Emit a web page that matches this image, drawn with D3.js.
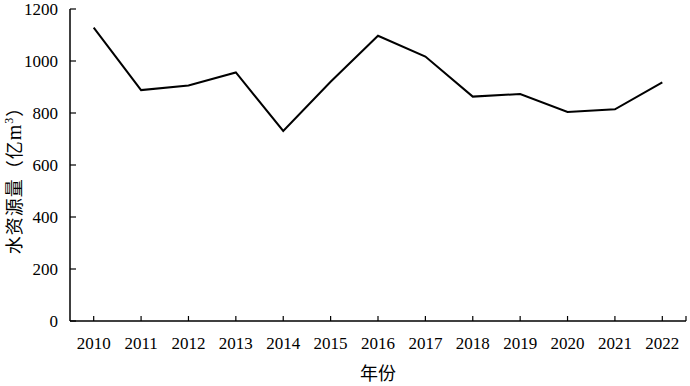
<!DOCTYPE html>
<html>
<head>
<meta charset="utf-8">
<script src="https://cdn.jsdelivr.net/npm/d3@7"></script>
<style>
  body { margin: 0; background: #fff; }
  svg text { font-family: "Liberation Serif", "Times New Roman", serif; fill: #000; }
  .cjk { font-family: "Noto Sans CJK SC", sans-serif; }
</style>
</head>
<body>
<svg id="chart"></svg>
<script>
const years = ["2010", "2011", "2012", "2013", "2014", "2015", "2016", "2017", "2018", "2019", "2020", "2021", "2022"];
const water = [1128, 888, 906, 956, 731, 920, 1097, 1017, 863, 873, 804, 814, 918];
const yTicks = [0, 200, 400, 600, 800, 1000, 1200];

const svgWidth = 690;
const svgHeight = 386;
const plotLeft = 70, plotRight = 686, plotTop = 9, plotBottom = 321;

const svg = d3.select("#chart")
  .attr("width", svgWidth)
  .attr("height", svgHeight);

const xScale = d3.scaleBand()
  .domain(years)
  .range([plotLeft, plotRight]);

const yScale = d3.scaleLinear()
  .domain([0, 1200])
  .range([plotBottom, plotTop]);

const xMid = d => xScale(d) + xScale.bandwidth() / 2;

// x axis, ticks pointing up
const xAxis = svg.append("g")
  .attr("transform", `translate(0, ${plotBottom})`);
xAxis.append("line")
  .attr("x1", plotLeft).attr("x2", plotRight)
  .attr("stroke", "#000").attr("stroke-width", 1.5);
xAxis.selectAll(".tick")
  .data(years)
  .enter()
  .append("line")
  .attr("x1", xMid)
  .attr("x2", xMid)
  .attr("y1", 0).attr("y2", -5)
  .attr("stroke", "#000").attr("stroke-width", 1.2);
xAxis.append("line")
  .attr("x1", plotRight).attr("x2", plotRight)
  .attr("y1", 0).attr("y2", -5)
  .attr("stroke", "#000").attr("stroke-width", 1.2);
xAxis.selectAll(".lbl")
  .data(years)
  .enter()
  .append("text")
  .attr("x", xMid)
  .attr("y", 28)
  .attr("text-anchor", "middle")
  .attr("font-size", 17)
  .text(d => d);

// y axis, ticks pointing inward
const yAxis = svg.append("g");
yAxis.append("line")
  .attr("x1", plotLeft).attr("x2", plotLeft)
  .attr("y1", plotTop).attr("y2", plotBottom)
  .attr("stroke", "#000").attr("stroke-width", 1.5);
yAxis.selectAll(".tick")
  .data(yTicks)
  .enter()
  .append("line")
  .attr("x1", plotLeft).attr("x2", plotLeft + 6)
  .attr("y1", d => yScale(d)).attr("y2", d => yScale(d))
  .attr("stroke", "#000").attr("stroke-width", 1.2);
yAxis.selectAll(".lbl")
  .data(yTicks)
  .enter()
  .append("text")
  .attr("x", 58)
  .attr("y", d => yScale(d))
  .attr("dy", "0.35em")
  .attr("text-anchor", "end")
  .attr("font-size", 17)
  .text(d => d);

// axis titles
svg.append("text")
  .attr("class", "cjk")
  .attr("x", (plotLeft + plotRight) / 2)
  .attr("y", 380)
  .attr("text-anchor", "middle")
  .attr("font-size", 18)
  .text("年份");

const yTitle = svg.append("text")
  .attr("transform", "translate(21, 176) rotate(-90)")
  .attr("text-anchor", "middle")
  .attr("letter-spacing", 1)
  .attr("font-size", 18);
yTitle.append("tspan").attr("class", "cjk").text("水资源量（亿");
yTitle.append("tspan").attr("font-size", 20).text("m");
yTitle.append("tspan").attr("font-size", 12).attr("dy", -8).text("3");
yTitle.append("tspan").attr("class", "cjk").attr("dy", 8).text("）");

// line
const line = d3.line()
  .x((d, i) => xMid(years[i]))
  .y(d => yScale(d));

svg.append("path")
  .datum(water)
  .attr("fill", "none")
  .attr("stroke", "#000")
  .attr("stroke-width", 2)
  .attr("d", line);
</script>
</body>
</html>
